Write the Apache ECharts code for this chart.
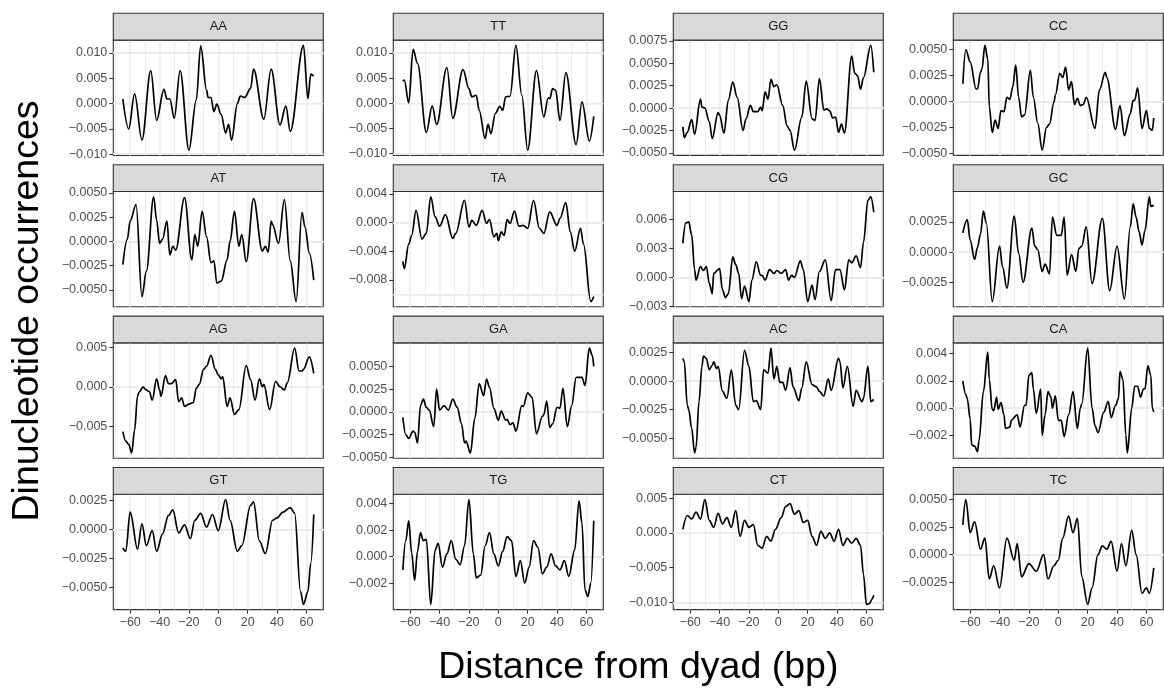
<!DOCTYPE html>
<html><head><meta charset="utf-8">
<script src="https://cdn.jsdelivr.net/npm/echarts@6/dist/echarts.min.js"></script>
<style>html,body{margin:0;padding:0;background:#fff}#c{width:1164px;height:698px}</style>
</head><body><div id="c"></div>
<script>
// ---- data: [distance from dyad (bp), dinucleotide occurrence] ----
const AA = [[-65,0.0009],[-61,-0.0050],[-57,0.0019],[-52,-0.0072],[-46,0.0065],[-42,-0.0033],[-37,0.0028],[-35,0.0009],[-33,0.0009],[-30,-0.0029],[-26,0.0065],[-20,-0.0092],[-15,0.0007],[-12,0.0114],[-8,0.0027],[-7,0.0012],[-5,0.0012],[-3,-0.0016],[-1,-0.0001],[2,-0.0022],[5,-0.0058],[7,-0.0041],[9,-0.0072],[13,0.0000],[15,0.0015],[18,0.0012],[22,0.0030],[24,0.0068],[31,-0.0031],[36,0.0068],[42,-0.0042],[46,-0.0005],[49,-0.0055],[58,0.0115],[61,0.0010],[63,0.0058],[65,0.0054]];
const TT = [[-65,0.0044],[-64,0.0046],[-61,0.0001],[-58,0.0107],[-55,0.0079],[-49,-0.0058],[-45,-0.0005],[-42,-0.0042],[-35,0.0071],[-31,-0.0030],[-24,0.0067],[-20,0.0029],[-18,0.0013],[-15,0.0016],[-13,-0.0014],[-9,-0.0070],[-7,-0.0042],[-5,-0.0060],[-2,-0.0020],[1,-0.0006],[3,-0.0014],[5,0.0013],[8,0.0014],[12,0.0115],[16,0.0016],[20,-0.0093],[26,0.0065],[31,-0.0027],[34,0.0011],[35,0.0009],[37,0.0029],[39,0.0026],[42,-0.0034],[46,0.0061],[53,-0.0082],[57,0.0003],[62,-0.0075],[65,-0.0026]];
const GG = [[-65,-0.0021],[-64,-0.0033],[-62,-0.0027],[-59,-0.0013],[-57,-0.0029],[-53,0.0010],[-52,0.0001],[-50,0.0000],[-47,-0.0015],[-45,-0.0034],[-41,-0.0005],[-40,-0.0008],[-37,-0.0028],[-34,0.0009],[-31,0.0029],[-28,0.0012],[-24,-0.0025],[-22,-0.0012],[-19,0.0003],[-17,-0.0004],[-14,-0.0004],[-12,0.0001],[-11,-0.0003],[-9,0.0018],[-7,0.0010],[-5,0.0032],[-3,0.0024],[-1,0.0026],[3,0.0003],[6,-0.0020],[8,-0.0025],[11,-0.0047],[16,-0.0010],[19,0.0030],[23,-0.0012],[25,-0.0014],[28,0.0033],[31,-0.0002],[33,-0.0001],[35,-0.0003],[37,-0.0011],[39,-0.0010],[41,-0.0027],[43,-0.0018],[45,-0.0028],[50,0.0058],[52,0.0039],[54,0.0036],[56,0.0021],[58,0.0034],[63,0.0070],[65,0.0040]];
const CC = [[-65,0.0017],[-63,0.0050],[-60,0.0038],[-56,0.0012],[-55,0.0012],[-53,0.0028],[-52,0.0031],[-50,0.0054],[-48,0.0041],[-47,-0.0005],[-45,-0.0030],[-43,-0.0018],[-41,-0.0026],[-39,-0.0009],[-37,-0.0010],[-35,0.0004],[-33,0.0002],[-31,0.0014],[-29,0.0035],[-27,0.0004],[-25,-0.0015],[-23,-0.0013],[-19,0.0030],[-17,0.0004],[-14,-0.0021],[-11,-0.0047],[-8,-0.0025],[-6,-0.0022],[-3,-0.0001],[-2,0.0006],[1,0.0027],[3,0.0023],[5,0.0033],[7,0.0011],[9,0.0019],[11,-0.0003],[13,0.0003],[15,-0.0004],[17,-0.0003],[19,0.0004],[25,-0.0026],[28,0.0011],[32,0.0028],[33,0.0023],[39,-0.0027],[42,-0.0004],[45,-0.0033],[49,-0.0012],[51,0.0001],[52,0.0001],[54,0.0013],[57,-0.0026],[60,-0.0009],[62,-0.0026],[64,-0.0028],[65,-0.0016]];
const AT = [[-65,-0.0024],[-62,0.0002],[-60,0.0021],[-56,0.0038],[-52,-0.0057],[-49,-0.0031],[-44,0.0046],[-42,0.0022],[-40,-0.0002],[-38,0.0002],[-35,0.0021],[-33,-0.0014],[-31,-0.0005],[-29,-0.0009],[-23,0.0045],[-18,-0.0019],[-16,0.0007],[-14,-0.0005],[-11,0.0031],[-8,0.0005],[-5,-0.0022],[-3,-0.0020],[-1,-0.0043],[2,-0.0041],[6,-0.0019],[8,0.0000],[11,0.0031],[14,-0.0005],[16,0.0007],[19,-0.0021],[24,0.0044],[30,-0.0010],[32,-0.0005],[34,-0.0011],[36,0.0021],[37,0.0017],[41,-0.0002],[45,0.0043],[49,-0.0020],[53,-0.0062],[57,0.0030],[59,0.0015],[62,-0.0012],[65,-0.0040]];
const TA = [[-65,-0.0054],[-64,-0.0064],[-61,-0.0030],[-59,-0.0018],[-56,0.0017],[-52,-0.0023],[-49,-0.0015],[-46,0.0036],[-43,0.0008],[-40,-0.0005],[-36,0.0011],[-31,-0.0022],[-29,-0.0015],[-23,0.0031],[-20,-0.0006],[-18,0.0003],[-15,-0.0004],[-11,0.0017],[-8,-0.0001],[-6,0.0004],[-3,-0.0020],[-1,-0.0015],[0,-0.0025],[2,-0.0013],[4,-0.0018],[6,0.0004],[8,-0.0001],[11,0.0016],[14,-0.0005],[17,-0.0004],[20,-0.0008],[24,0.0031],[28,-0.0008],[31,-0.0015],[35,0.0015],[40,-0.0004],[42,0.0006],[46,0.0028],[49,-0.0013],[52,-0.0040],[56,-0.0008],[58,-0.0030],[63,-0.0110],[65,-0.0103]];
const CG = [[-65,0.0035],[-63,0.0056],[-61,0.0057],[-59,0.0044],[-57,0.0008],[-56,-0.0003],[-53,0.0011],[-51,0.0007],[-49,0.0011],[-47,-0.0006],[-45,-0.0017],[-44,0.0004],[-40,0.0009],[-38,-0.0013],[-36,-0.0021],[-34,-0.0017],[-31,0.0021],[-29,0.0013],[-27,0.0004],[-25,-0.0022],[-23,-0.0009],[-20,-0.0025],[-18,-0.0003],[-15,0.0016],[-12,0.0002],[-11,0.0002],[-9,-0.0003],[-6,0.0008],[-3,0.0004],[-1,0.0007],[2,0.0004],[5,0.0008],[7,-0.0003],[9,0.0002],[11,0.0000],[15,0.0017],[17,0.0008],[20,-0.0025],[23,-0.0008],[25,-0.0023],[28,0.0006],[32,0.0018],[36,-0.0024],[39,0.0008],[42,0.0008],[45,-0.0013],[48,0.0018],[50,0.0015],[53,0.0022],[56,0.0010],[58,0.0036],[61,0.0079],[63,0.0083],[65,0.0067]];
const GC = [[-65,0.0016],[-62,0.0027],[-60,0.0010],[-57,-0.0006],[-55,0.0004],[-53,0.0015],[-51,0.0034],[-49,0.0024],[-45,-0.0041],[-40,0.0005],[-38,-0.0012],[-35,-0.0030],[-30,0.0030],[-27,-0.0001],[-24,-0.0025],[-18,0.0020],[-16,0.0005],[-14,0.0002],[-11,-0.0016],[-9,-0.0010],[-6,-0.0018],[-4,0.0029],[-1,0.0014],[2,0.0014],[4,0.0029],[6,-0.0019],[9,-0.0002],[12,-0.0016],[14,0.0003],[16,0.0005],[19,0.0021],[23,-0.0026],[30,0.0028],[35,-0.0032],[40,0.0005],[45,-0.0039],[49,0.0021],[51,0.0040],[53,0.0029],[55,0.0017],[57,0.0006],[59,0.0018],[62,0.0046],[63,0.0038],[65,0.0039]];
const AG = [[-65,-0.0057],[-63,-0.0069],[-61,-0.0073],[-59,-0.0084],[-57,-0.0055],[-55,-0.0012],[-54,-0.0007],[-51,0.0000],[-50,-0.0003],[-47,-0.0006],[-45,-0.0017],[-42,0.0010],[-40,-0.0004],[-39,-0.0012],[-36,0.0014],[-34,0.0004],[-32,0.0004],[-29,0.0009],[-27,-0.0019],[-25,-0.0014],[-23,-0.0025],[-20,-0.0022],[-17,-0.0020],[-15,-0.0002],[-13,0.0003],[-10,0.0022],[-8,0.0026],[-5,0.0040],[-2,0.0022],[0,0.0015],[2,0.0010],[3,0.0013],[6,-0.0025],[8,-0.0014],[11,-0.0035],[14,-0.0029],[19,0.0027],[22,0.0009],[25,-0.0017],[28,0.0010],[30,0.0000],[31,0.0003],[35,-0.0029],[39,0.0007],[42,0.0000],[45,-0.0004],[47,0.0005],[52,0.0049],[55,0.0020],[57,0.0020],[58,0.0022],[62,0.0038],[65,0.0017]];
const GA = [[-65,-0.0006],[-63,-0.0025],[-61,-0.0029],[-58,-0.0021],[-57,-0.0022],[-55,-0.0034],[-53,0.0007],[-51,0.0014],[-49,0.0005],[-47,0.0002],[-44,-0.0016],[-42,0.0025],[-40,0.0002],[-37,0.0007],[-34,0.0002],[-31,0.0014],[-28,0.0005],[-25,-0.0013],[-23,-0.0034],[-22,-0.0032],[-19,-0.0045],[-16,-0.0007],[-13,0.0031],[-10,0.0018],[-8,0.0036],[-6,0.0027],[-3,0.0004],[0,-0.0009],[2,0.0001],[5,-0.0009],[6,-0.0008],[8,-0.0014],[10,-0.0012],[12,-0.0021],[16,0.0007],[17,0.0006],[20,0.0021],[23,0.0016],[26,-0.0024],[30,-0.0005],[31,-0.0003],[33,0.0012],[35,-0.0017],[37,-0.0013],[40,0.0005],[42,0.0004],[44,0.0026],[47,-0.0016],[50,0.0007],[53,0.0038],[57,0.0038],[59,0.0029],[62,0.0070],[64,0.0062],[65,0.0050]];
const AC = [[-65,0.0020],[-64,0.0017],[-62,-0.0021],[-61,-0.0025],[-59,-0.0041],[-57,-0.0063],[-56,-0.0058],[-54,-0.0018],[-52,0.0013],[-51,0.0022],[-49,0.0020],[-47,0.0010],[-45,0.0014],[-44,0.0017],[-42,0.0011],[-41,0.0013],[-38,-0.0009],[-35,-0.0015],[-32,0.0010],[-29,-0.0021],[-27,-0.0025],[-23,0.0027],[-20,0.0013],[-17,-0.0018],[-15,-0.0017],[-12,-0.0025],[-10,0.0010],[-7,0.0007],[-5,0.0029],[-3,0.0002],[-1,0.0013],[1,-0.0001],[3,-0.0001],[5,-0.0008],[8,0.0012],[10,-0.0005],[14,-0.0017],[16,-0.0006],[19,0.0017],[23,-0.0003],[26,-0.0005],[28,-0.0009],[31,-0.0013],[34,0.0002],[36,-0.0008],[41,0.0020],[42,0.0017],[44,-0.0006],[47,0.0013],[51,-0.0022],[53,-0.0008],[57,-0.0018],[58,-0.0015],[61,0.0013],[63,-0.0018],[65,-0.0016]];
const CA = [[-65,0.0020],[-63,0.0010],[-62,0.0007],[-60,-0.0008],[-59,-0.0027],[-57,-0.0028],[-55,-0.0032],[-54,-0.0024],[-51,0.0012],[-48,0.0041],[-47,0.0021],[-45,-0.0001],[-44,-0.0002],[-42,0.0008],[-41,-0.0001],[-39,0.0004],[-37,-0.0005],[-36,-0.0015],[-33,-0.0014],[-32,-0.0009],[-28,-0.0005],[-26,-0.0014],[-23,0.0002],[-22,0.0002],[-20,0.0024],[-18,0.0026],[-17,0.0014],[-15,-0.0004],[-12,0.0014],[-11,-0.0020],[-9,-0.0005],[-7,0.0012],[-5,0.0008],[-4,0.0000],[-2,0.0009],[0,-0.0009],[2,-0.0009],[4,-0.0021],[7,-0.0005],[10,0.0012],[13,-0.0015],[15,0.0000],[16,0.0003],[20,0.0044],[23,0.0000],[25,-0.0013],[27,-0.0018],[31,-0.0003],[34,0.0005],[36,-0.0007],[39,0.0002],[41,0.0007],[42,0.0027],[44,0.0021],[46,-0.0020],[47,-0.0033],[50,0.0000],[52,0.0016],[54,0.0016],[56,0.0008],[58,0.0014],[59,0.0014],[61,0.0031],[63,0.0024],[64,0.0000],[65,-0.0003]];
const GT = [[-65,-0.0016],[-63,-0.0019],[-60,0.0015],[-55,-0.0017],[-52,0.0005],[-49,-0.0014],[-45,-0.0001],[-42,-0.0019],[-38,-0.0004],[-34,0.0012],[-31,0.0017],[-27,-0.0003],[-23,0.0004],[-19,-0.0008],[-16,0.0008],[-12,0.0014],[-8,0.0002],[-4,0.0013],[0,-0.0001],[5,0.0026],[8,0.0008],[13,-0.0019],[16,-0.0014],[22,0.0021],[24,0.0024],[28,-0.0010],[32,-0.0021],[37,0.0008],[40,0.0010],[44,0.0015],[49,0.0019],[52,0.0014],[56,-0.0054],[58,-0.0065],[61,-0.0054],[63,-0.0029],[65,0.0013]];
const TG = [[-65,-0.0010],[-63,0.0012],[-61,0.0027],[-59,0.0003],[-57,-0.0018],[-55,0.0004],[-53,0.0018],[-51,0.0012],[-49,0.0013],[-46,-0.0036],[-43,0.0005],[-41,0.0010],[-38,-0.0008],[-35,0.0002],[-32,0.0012],[-29,-0.0002],[-26,-0.0006],[-23,0.0008],[-20,0.0043],[-17,0.0002],[-15,-0.0016],[-12,-0.0014],[-9,0.0008],[-6,0.0018],[-3,0.0002],[0,-0.0007],[3,0.0004],[6,0.0015],[9,0.0012],[12,-0.0015],[15,-0.0003],[18,-0.0020],[21,-0.0008],[24,0.0012],[27,0.0007],[30,-0.0013],[33,-0.0008],[36,0.0002],[39,-0.0007],[42,-0.0010],[45,-0.0003],[48,-0.0015],[52,0.0005],[55,0.0042],[57,0.0025],[59,-0.0025],[61,-0.0030],[63,-0.0020],[65,0.0027]];
const CT = [[-65,0.0005],[-62,0.0025],[-59,0.0020],[-56,0.0030],[-53,0.0020],[-50,0.0048],[-47,0.0018],[-44,0.0008],[-41,0.0028],[-38,0.0013],[-35,0.0022],[-32,0.0008],[-29,0.0032],[-26,-0.0005],[-23,0.0018],[-20,0.0008],[-17,0.0012],[-14,-0.0018],[-11,-0.0022],[-8,-0.0005],[-5,-0.0012],[-2,0.0005],[2,0.0022],[5,0.0038],[8,0.0042],[11,0.0027],[14,0.0032],[17,0.0015],[20,0.0018],[23,-0.0005],[26,-0.0018],[29,0.0002],[32,-0.0008],[35,0.0000],[38,-0.0012],[41,0.0005],[44,-0.0018],[47,-0.0008],[50,-0.0015],[53,-0.0008],[56,-0.0018],[58,-0.0060],[60,-0.0103],[62,-0.0102],[64,-0.0095],[65,-0.0090]];
const TC = [[-65,0.0027],[-63,0.0050],[-60,0.0020],[-57,0.0030],[-53,0.0005],[-50,0.0015],[-47,-0.0022],[-44,-0.0010],[-40,-0.0030],[-35,0.0015],[-30,-0.0005],[-28,0.0010],[-25,-0.0020],[-20,-0.0008],[-15,-0.0015],[-10,0.0000],[-7,-0.0022],[-3,-0.0010],[0,-0.0005],[3,0.0015],[7,0.0035],[10,0.0020],[13,0.0033],[16,-0.0020],[20,-0.0045],[23,-0.0030],[27,0.0000],[30,0.0008],[33,0.0005],[36,0.0012],[40,-0.0015],[43,0.0010],[46,-0.0010],[50,0.0022],[53,0.0000],[57,-0.0035],[60,-0.0030],[62,-0.0035],[65,-0.0012]];

const panelNames = ['AA','TT','GG','CC','AT','TA','CG','GC','AG','GA','AC','CA','GT','TG','CT','TC'];
const yTicks = [
  [-0.01,-0.005,0,0.005,0.01], [-0.01,-0.005,0,0.005,0.01],
  [-0.005,-0.0025,0,0.0025,0.005,0.0075], [-0.005,-0.0025,0,0.0025,0.005],
  [-0.005,-0.0025,0,0.0025,0.005], [-0.008,-0.004,0,0.004],
  [-0.003,0,0.003,0.006], [-0.0025,0,0.0025],
  [-0.005,0,0.005], [-0.005,-0.0025,0,0.0025,0.005],
  [-0.005,-0.0025,0,0.0025], [-0.002,0,0.002,0.004],
  [-0.005,-0.0025,0,0.0025], [-0.002,0,0.002,0.004],
  [-0.01,-0.005,0,0.005], [-0.0025,0,0.0025,0.005]
];
const xTicks = [-60,-40,-20,0,20,40,60];
const xTitle = 'Distance from dyad (bp)';
const yTitle = 'Dinucleotide occurrences';

// ---- layout ----
const FONT = '"Liberation Sans", Arial, Helvetica, sans-serif';
const L0 = 113.3, DX = 280, PW = 210;
const T0 = 13.3, DY = 151.4, SH = 26.8, PH = 115.3;
const GRID = '#EBEBEB', DARK = '#333333';

const seriesData = {AA,TT,GG,CC,AT,TA,CG,GC,AG,GA,AC,CA,GT,TG,CT,TC};

function expand(vals){ const lo=Math.min(...vals), hi=Math.max(...vals), p=0.05*(hi-lo); return [lo-p, hi+p]; }
const allX = [].concat(...panelNames.map(n => seriesData[n].map(p => p[0])));
const [xMin, xMax] = expand(allX);

function decimals(ticks){ let d=0; for(const t of ticks){ for(let k=0;k<8;k++){ const s=t*Math.pow(10,k); if(Math.abs(s-Math.round(s))<1e-7){ d=Math.max(d,k); break; } } } return d; }
function fmt(v,d){ const s=Math.abs(v).toFixed(d); return (v < -1e-12 ? '\u2212' : '') + s; }
function minorOf(ticks, lo, hi){ const st=ticks[1]-ticks[0]; const m=[ticks[0]-st/2].concat(ticks.map(t=>t+st/2)); return m.filter(v=>v>=lo && v<=hi); }

const grids=[], xAxes=[], yAxes=[], series=[], graphics=[];
panelNames.forEach((name,i)=>{
  const r=Math.floor(i/4), c=i%4;
  const left=L0+c*DX, stripTop=T0+r*DY, top=stripTop+SH;
  const data=seriesData[name];
  const [yMin,yMax]=expand(data.map(p=>p[1]));
  const ticks=yTicks[i].filter(t=>t>=yMin && t<=yMax);
  const dec=decimals(yTicks[i]);
  const bottom = r===3;
  grids.push({left:left, top:top, width:PW, height:PH, show:true, backgroundColor:'#ffffff', borderColor:DARK, borderWidth:1.1, containLabel:false, outerBoundsMode:'none'});
  xAxes.push({gridIndex:i, type:'value', min:xMin, max:xMax, position:'bottom',
    axisLine:{show:false, onZero:false}, splitLine:{show:false}, minorSplitLine:{show:false},
    axisTick:{show:bottom, customValues:xTicks, length:4, lineStyle:{color:DARK, width:1.1}},
    axisLabel:{show:bottom, customValues:xTicks, formatter:v=>fmt(v,0), color:'#4D4D4D', fontSize:12.5, fontFamily:FONT, margin:6}});
  yAxes.push({gridIndex:i, type:'value', min:yMin, max:yMax, position:'left',
    axisLine:{show:false, onZero:false}, splitLine:{show:false}, minorSplitLine:{show:false},
    axisTick:{show:true, customValues:ticks, length:4, lineStyle:{color:DARK, width:1.1}},
    axisLabel:{show:true, customValues:ticks, formatter:v=>fmt(v,dec), color:'#4D4D4D', fontSize:12.5, fontFamily:FONT, margin:6}});
  const ml=[];
  minorOf(xTicks,xMin,xMax).forEach(v=>ml.push({xAxis:v, lineStyle:{width:1.0, color:GRID, type:'solid'}}));
  minorOf(ticks,yMin,yMax).forEach(v=>ml.push({yAxis:v, lineStyle:{width:1.0, color:GRID, type:'solid'}}));
  xTicks.forEach(v=>ml.push({xAxis:v, lineStyle:{width:1.6, color:GRID, type:'solid'}}));
  ticks.forEach(v=>ml.push({yAxis:v, lineStyle:{width:1.6, color:GRID, type:'solid'}}));
  series.push({type:'line', name:name, xAxisIndex:i, yAxisIndex:i, data:data, showSymbol:false, symbol:'none',
    smooth:0.35, smoothMonotone:'x', lineStyle:{color:'#000000', width:1.7}, z:3, silent:true,
    markLine:{silent:true, z:1, symbol:['none','none'], label:{show:false}, animation:false,
      emphasis:{disabled:true}, lineStyle:{type:'solid', color:GRID}, data:ml}});
  graphics.push({type:'rect', shape:{x:left, y:stripTop, width:PW, height:SH}, style:{fill:'#D9D9D9', stroke:DARK, lineWidth:1.1}, z:10, silent:true});
  graphics.push({type:'text', x:left+PW/2, y:stripTop+SH/2, z:11, silent:true,
    style:{text:name, fill:'#1A1A1A', font:'13px '+FONT, align:'center', verticalAlign:'middle', textAlign:'center', textVerticalAlign:'middle'}});
});
graphics.push({type:'text', x:28, y:311, rotation:Math.PI/2, z:11, silent:true,
  style:{text:yTitle, fill:'#000000', font:'37.5px '+FONT, align:'center', verticalAlign:'middle', textAlign:'center', textVerticalAlign:'middle'}});
graphics.push({type:'text', x:L0+(3*DX+PW)/2, y:668, z:11, silent:true,
  style:{text:xTitle, fill:'#000000', font:'37.5px '+FONT, align:'center', verticalAlign:'middle', textAlign:'center', textVerticalAlign:'middle'}});

const chart = echarts.init(document.getElementById('c'), null, {renderer:'canvas'});
chart.setOption({animation:false, backgroundColor:'#ffffff', grid:grids, xAxis:xAxes, yAxis:yAxes, series:series, graphic:graphics});
</script></body></html>
